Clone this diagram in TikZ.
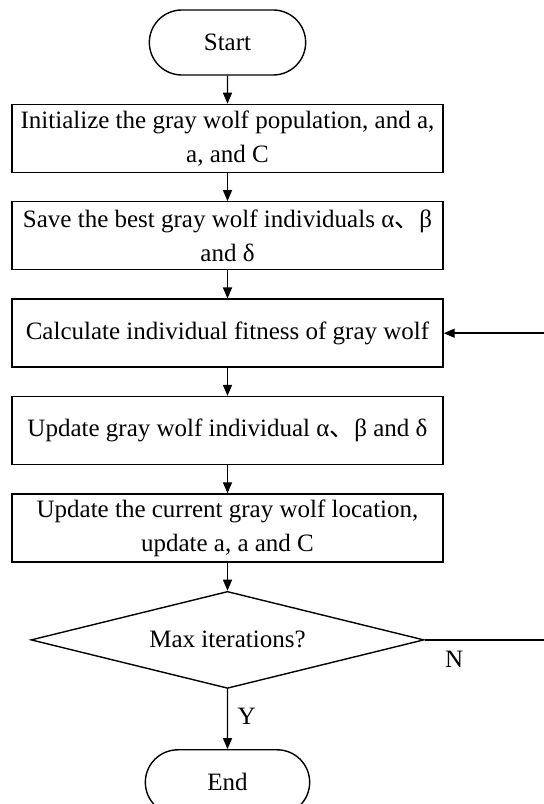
\documentclass[tikz,border=0pt]{standalone}
\usepackage{fontspec}
\setmainfont{Liberation Serif}
\newfontfamily\cjk{Noto Sans CJK SC}
\usetikzlibrary{shapes.geometric, shapes.misc, arrows}
\usetikzlibrary{positioning}
\usetikzlibrary{arrows.meta}
\tikzstyle{startstop} = [rounded rectangle, minimum height=65pt, draw=black,
line width=1.4pt]
\tikzstyle{process} = [rectangle, minimum width=431pt, minimum height=68pt, text centered,
align=center, inner sep=0pt, draw=black, line width=1.4pt]
\tikzstyle{decision} = [diamond, aspect=4, minimum width=393pt, minimum height=97pt,
inner sep=0pt, draw=black, line width=1.4pt]
\tikzstyle{arrow} = [line width=1.4pt, -{Triangle[length=11pt, width=9pt]}]

\begin{document}
\begin{tikzpicture}[x=1pt, y=1pt, node distance=28pt, font=\fontsize{25}{34}\selectfont]
  \clip (0,0) rectangle (544,804);

  \node (start) [startstop, minimum width=163pt] at (227.5,761.5) {Start};
  \node (init) [process, below=of start]
  {Initialize the gray wolf population, and a,\\ a, and C};
  \node (save) [process, below=of init]
  {Save the best gray wolf individuals α{\cjk 、}β\\ and δ};
  \node (calc) [process, below=of save] {Calculate individual fitness of gray wolf};
  \node (upd) [process, below=of calc] {Update gray wolf individual α{\cjk 、}β and δ};
  \node (loc) [process, below=of upd]
  {Update the current gray wolf location,\\ update a, a and C};
  \node (maxit) [decision, below=of loc] {Max iterations?};
  \node (stop) [startstop, minimum width=171pt, below=60pt of maxit] {End};
  \coordinate [right=140pt of maxit.east] (back);

  \draw[arrow] (start) -- (init);
  \draw[arrow] (init) -- (save);
  \draw[arrow] (save) -- (calc);
  \draw[arrow] (calc) -- (upd);
  \draw[arrow] (upd) -- (loc);
  \draw[arrow] (loc) -- (maxit);
  \draw[arrow] (maxit) -- node[right=6pt, pos=.45] {Y} (stop);
  \draw[arrow] (maxit.east) -- node[below=7pt, pos=.21] {N} (back) |- (calc.east);
\end{tikzpicture}
\end{document}
